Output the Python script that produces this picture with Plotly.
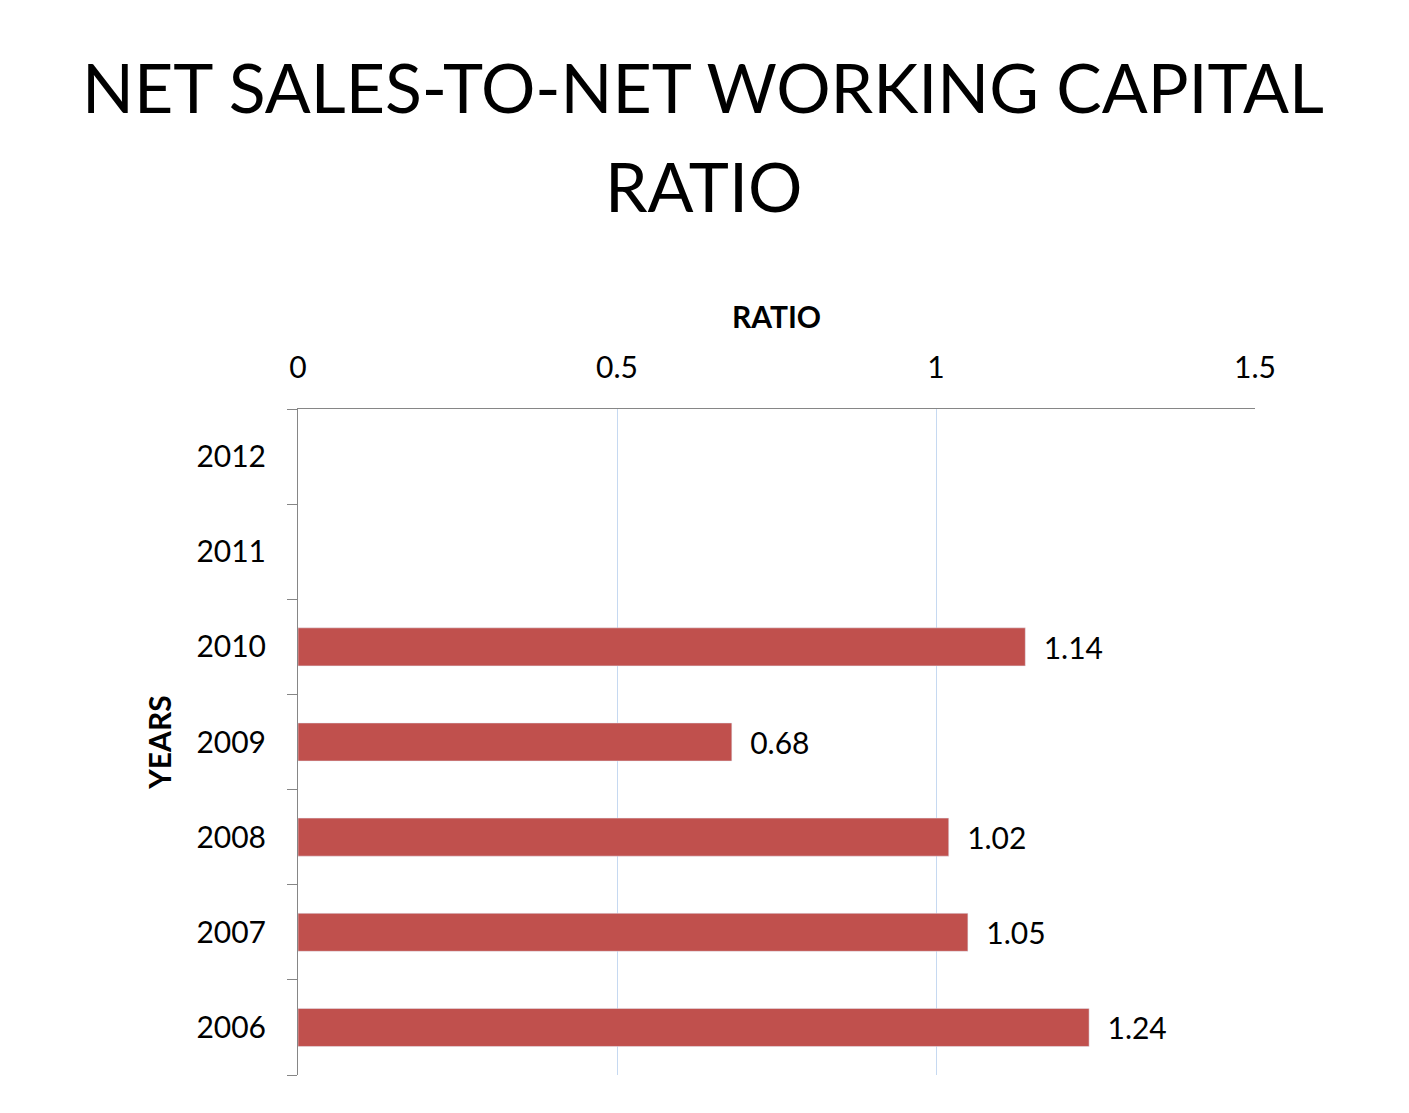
import plotly.graph_objects as go

years = ["2006", "2007", "2008", "2009", "2010", "2011", "2012"]
ratios = [1.24, 1.05, 1.02, 0.68, 1.14, None, None]
labels = ["1.24", "1.05", "1.02", "0.68", "1.14", "", ""]

fig = go.Figure(go.Bar(
    y=years, x=ratios, orientation="h",
    marker=dict(color="#C0504D"),
    text=["  " + t if t else "" for t in labels], textposition="outside",
    textfont=dict(size=30, color="black", family="Lato"),
    cliponaxis=False,
))
fig.update_layout(
    width=1409, height=1113,
    paper_bgcolor="white", plot_bgcolor="white",
    margin=dict(l=290, r=162, t=401, b=46, autoexpand=False),
    bargap=0.6, showlegend=False,
    font=dict(family="Lato", color="black"),
    annotations=[
        dict(text="NET SALES-TO-NET WORKING CAPITAL", xref="paper", yref="paper", x=(695-290)/957, y=(1113-46-78)/666 * 1 - 0 if False else 1 + (401-78)/666,
             xanchor="center", yanchor="middle", showarrow=False, font=dict(size=68, family="Lato", color="black")),
        dict(text="RATIO", xref="paper", yref="paper", x=(695-290)/957, y=1 + (401-178)/666,
             xanchor="center", yanchor="middle", showarrow=False, font=dict(size=68, family="Lato", color="black")),
    ],
    xaxis=dict(side="top", range=[0, 1.5], tickvals=[0, 0.5, 1, 1.5], ticktext=["0", "0.5", "1", "1.5"],
               showgrid=True, gridcolor="#C6D9F1", gridwidth=1, zeroline=False, automargin=False,
               showline=True, linecolor="#868686", ticks="outside", tickcolor="#868686", ticklen=0,
               tickfont=dict(size=30), ticklabelstandoff=18,
               title=dict(text="<b>RATIO</b>", font=dict(size=30), standoff=10)),
    yaxis=dict(type="category", categoryorder="array", categoryarray=years, automargin=False,
               showline=True, linecolor="#868686", ticks="outside", tickson="boundaries",
               ticklen=10, tickcolor="#868686", tickfont=dict(size=30), ticklabelstandoff=25,
               title=dict(text="<b>YEARS</b>", font=dict(size=30), standoff=15)),
)
fig.write_html("out.html")
